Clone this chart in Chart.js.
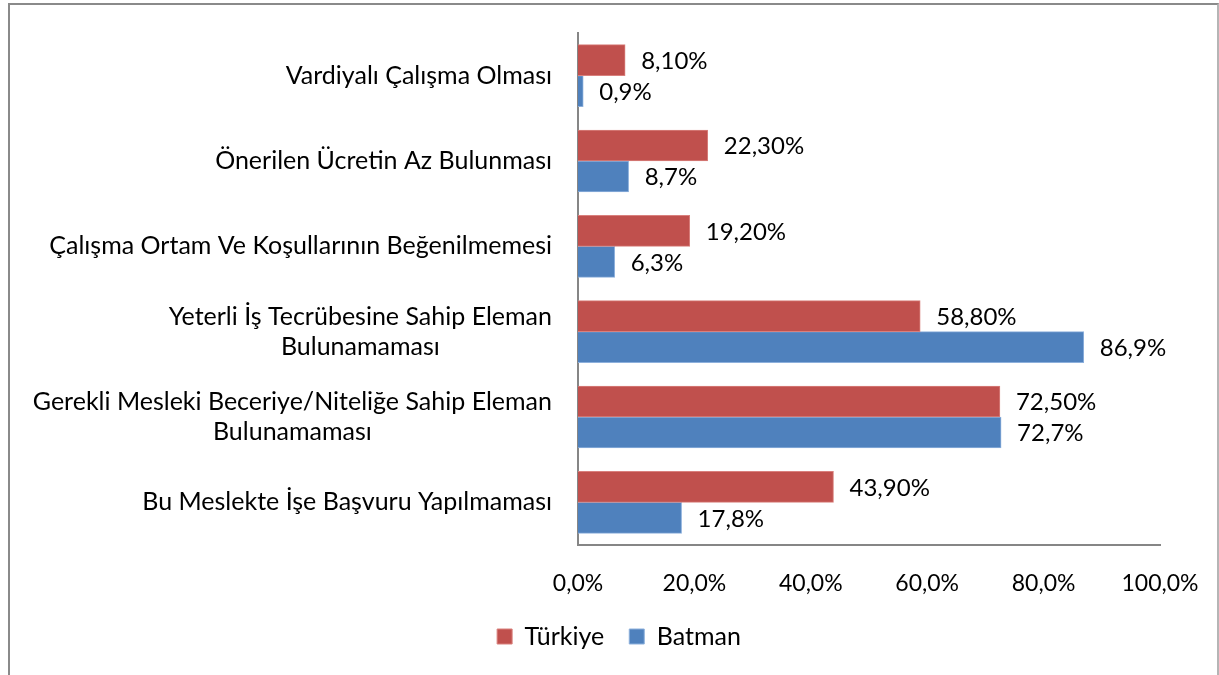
<!DOCTYPE html>
<html>
<head>
<meta charset="utf-8">
<script src="https://cdn.jsdelivr.net/npm/chart.js@4"></script>
<style>
  html, body { margin: 0; padding: 0; background: #fff; }
  #wrap { position: absolute; left: 0; top: 0; width: 1219px; height: 675px; }
  #frame {
    position: absolute; left: 8px; top: 3px; width: 1207px; height: 690px;
    border-left: 2px solid #8a8a8a; border-top: 2px solid #8a8a8a; border-right: 2px solid #b5b5b5;
    pointer-events: none;
  }
</style>
</head>
<body>
<div id="wrap"><canvas id="chart" width="1219" height="675"></canvas></div>
<div id="frame"></div>
<script>
// Kategoriler (yukarıdan aşağıya)
const categories = [
    ['Vardiyalı Çalışma Olması'],
    ['Önerilen Ücretin Az Bulunması'],
    ['Çalışma Ortam Ve Koşullarının Beğenilmemesi'],
    ['Yeterli İş Tecrübesine Sahip Eleman', 'Bulunamaması'],
    ['Gerekli Mesleki Beceriye/Niteliğe Sahip Eleman', 'Bulunamaması'],
    ['Bu Meslekte İşe Başvuru Yapılmaması']
];

// Seri değerleri (%)
const turkiyeValues = [8.1, 22.3, 19.2, 58.8, 72.5, 43.9];
const batmanValues = [0.9, 8.7, 6.3, 86.9, 72.7, 17.8];

// Eksen etiketleri
const xTicks = [0, 20, 40, 60, 80, 100];

const FONT = 'Lato, "Open Sans", sans-serif';
const CAT_SIZE = 25;
const VAL_SIZE = 24;
const TICK_SIZE = 23;

function fmt(v, dec) {
    return v.toFixed(dec).replace('.', ',') + '%';
}

// Çubuk değer etiketleri
const valueLabels = {
    id: 'valueLabels',
    afterDatasetsDraw(chart) {
        const ctx = chart.ctx;
        ctx.save();
        ctx.font = VAL_SIZE + 'px ' + FONT;
        ctx.fillStyle = '#000';
        ctx.textAlign = 'left';
        ctx.textBaseline = 'middle';
        chart.data.datasets.forEach((ds, di) => {
            const meta = chart.getDatasetMeta(di);
            meta.data.forEach((bar, i) => {
                ctx.fillText(fmt(ds.data[i], ds.decimals), bar.x + 16, bar.y + 1);
            });
        });
        ctx.restore();
    }
};

// Kategori etiketleri (çok satırlı, satırlar ortalı)
const categoryLabels = {
    id: 'categoryLabels',
    afterDraw(chart) {
        const ctx = chart.ctx;
        const yScale = chart.scales.y;
        const right = chart.chartArea.left - 26;
        const lineH = 30;
        ctx.save();
        ctx.font = CAT_SIZE + 'px ' + FONT;
        ctx.fillStyle = '#000';
        ctx.textAlign = 'center';
        ctx.textBaseline = 'middle';
        categories.forEach((lines, i) => {
            const cy = yScale.getPixelForValue(i);
            const maxW = Math.max(...lines.map(l => ctx.measureText(l).width));
            const cx = right - maxW / 2;
            const y0 = cy - (lines.length - 1) * lineH / 2;
            lines.forEach((l, k) => ctx.fillText(l, cx, y0 + k * lineH));
        });
        ctx.restore();
    }
};

const ctx = document.getElementById('chart').getContext('2d');
new Chart(ctx, {
    type: 'bar',
    data: {
        labels: categories.map(c => c.join(' ')),
        datasets: [
            {
                label: 'Türkiye',
                data: turkiyeValues,
                decimals: 2,
                backgroundColor: '#C0504D',
                borderColor: '#d9807d',
                borderWidth: 1,
                barThickness: 31
            },
            {
                label: 'Batman',
                data: batmanValues,
                decimals: 1,
                backgroundColor: '#4F81BD',
                borderColor: '#8db0dc',
                borderWidth: 1,
                barThickness: 31
            }
        ]
    },
    options: {
        indexAxis: 'y',
        responsive: false,
        animation: false,
        layout: {
            padding: { left: 78, right: 59, top: 33, bottom: 16 }
        },
        plugins: {
            legend: {
                display: true,
                position: 'bottom',
                labels: {
                    font: { family: FONT, size: CAT_SIZE },
                    color: '#000',
                    boxWidth: 15,
                    boxHeight: 15,
                    padding: 25
                }
            },
            tooltip: { enabled: false }
        },
        scales: {
            x: {
                min: 0,
                max: 100,
                afterBuildTicks(scale) {
                    scale.ticks = xTicks.map(v => ({ value: v }));
                },
                grid: { display: false },
                border: { display: true, color: '#868686', width: 2 },
                ticks: {
                    font: { family: FONT, size: TICK_SIZE },
                    color: '#000',
                    padding: 17,
                    maxRotation: 0,
                    callback: v => fmt(v, 1)
                },
                afterFit(scale) {
                    scale.height = 54;
                    scale.paddingLeft = 0;
                    scale.paddingRight = 0;
                }
            },
            y: {
                grid: { display: false },
                border: { display: true, color: '#868686', width: 2 },
                ticks: { display: false },
                afterFit(scale) { scale.width = 500; }
            }
        }
    },
    plugins: [valueLabels, categoryLabels]
});
</script>
</body>
</html>
